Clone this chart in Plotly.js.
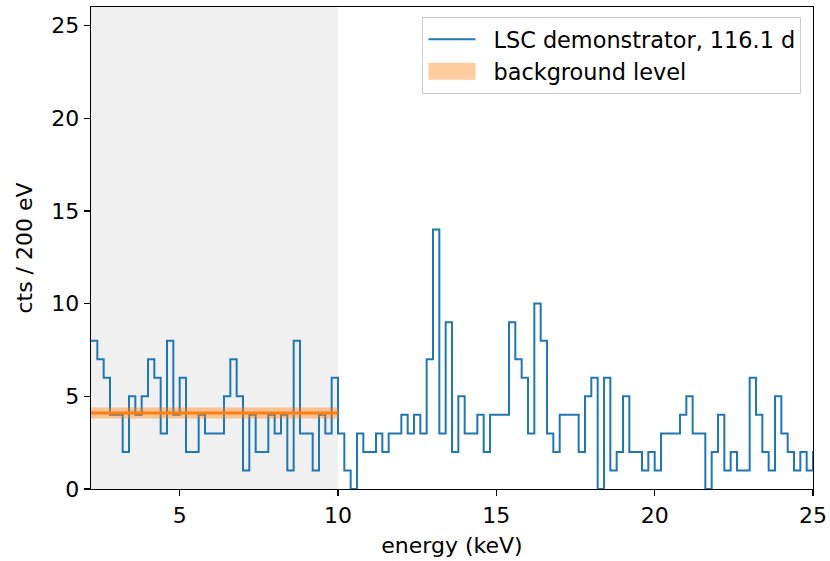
<!DOCTYPE html>
<html>
<head>
<meta charset="utf-8">
<script src="https://cdn.plot.ly/plotly-3.0.1.min.js"></script>
<style>html,body{margin:0;padding:0;background:#fff}#chart{width:830px;height:561px}</style>
</head>
<body>
<div id="chart"></div>
<script>
// Histogram: counts per 200 eV bin, first bin starting at 2.2 keV
const binStart = 2.2;
const binWidth = 0.2;
const counts = [
  8,7,6,4,4,2,5,4,5,7,6,3,8,4,6,2,2,4,3,3,
  3,5,7,5,1,4,2,2,4,3,4,1,8,3,3,1,4,3,6,3,
  1,0,3,2,2,3,2,3,3,4,3,4,3,7,14,3,9,2,5,3,
  3,4,2,4,4,4,9,7,6,3,10,8,3,2,4,4,4,2,5,6,
  0,6,1,2,5,2,2,1,2,1,3,3,3,4,5,3,3,0,2,4,
  1,2,1,1,6,4,2,1,5,3,2,1,2,1,2
];
const seriesName = "LSC demonstrator, 116.1 d";
// Background level (fit region 2.2 - 10 keV)
const bgName = "background level";
const bgRange = [2.2, 10.0];
const bgLevel = 4.1;
const bgErr = 0.3;
const xTicks = [5, 10, 15, 20, 25];
const yTicks = [0, 5, 10, 15, 20, 25];

const edges = counts.map((_, i) => +(binStart + i * binWidth).toFixed(3));
const stepX = edges.concat([+(binStart + counts.length * binWidth).toFixed(3)]);
const stepY = counts.concat([counts[counts.length - 1]]);

const font = {family: "DejaVu Sans, sans-serif", size: 22, color: "#000"};

const traces = [
  {
    x: stepX, y: stepY, type: "scatter", mode: "lines",
    line: {shape: "hv", color: "#1f77b4", width: 2},
    name: seriesName
  },
  {
    x: [bgRange[0], bgRange[1], bgRange[1], bgRange[0], bgRange[0]],
    y: [bgLevel - bgErr, bgLevel - bgErr, bgLevel + bgErr, bgLevel + bgErr, bgLevel - bgErr],
    type: "scatter", mode: "lines", fill: "toself",
    fillcolor: "rgba(255,127,14,0.4)", line: {width: 0, color: "rgba(255,127,14,0)"},
    name: bgName
  },
  {
    x: bgRange, y: [bgLevel, bgLevel], type: "scatter", mode: "lines",
    line: {color: "#ff7f0e", width: 3}, showlegend: false, hoverinfo: "skip"
  }
];

const layout = {
  width: 830, height: 561,
  margin: {l: 91, r: 17, t: 7, b: 72},
  paper_bgcolor: "#fff", plot_bgcolor: "#fff",
  font: font,
  showlegend: true,
  legend: {
    x: 0.984, y: 0.979, xanchor: "right", yanchor: "top",
    bgcolor: "rgba(255,255,255,0.85)", bordercolor: "#cccccc", borderwidth: 1,
    font: {family: "DejaVu Sans, sans-serif", size: 22.4, color: "#000"},
    traceorder: "normal", itemwidth: 60
  },
  xaxis: {
    range: [2.2, 25], tickvals: xTicks, ticktext: xTicks.map(String),
    showgrid: false, zeroline: false, showline: true, linecolor: "#000", linewidth: 1.3,
    mirror: true, ticks: "outside", ticklen: 6, tickwidth: 1.3, tickcolor: "#000",
    tickfont: font,
    title: {text: "energy (keV)", font: font, standoff: 11}
  },
  yaxis: {
    range: [0, 26], tickvals: yTicks, ticktext: yTicks.map(String),
    showgrid: false, zeroline: false, showline: true, linecolor: "#000", linewidth: 1.3,
    mirror: true, ticks: "outside", ticklen: 6, tickwidth: 1.3, tickcolor: "#000",
    tickfont: font,
    title: {text: "cts / 200 eV", font: font, standoff: 12}
  },
  shapes: [
    {type: "rect", xref: "x", yref: "paper", x0: 2.2, x1: 10.0, y0: 0, y1: 1,
     fillcolor: "#f0f0f0", line: {width: 0}, layer: "below"}
  ]
};

Plotly.newPlot("chart", traces, layout, {displayModeBar: false, staticPlot: true}).then(function () {
  try {
    const items = document.querySelectorAll(".legend .traces");
    if (items[0]) {
      const ln = items[0].querySelector("path.js-line");
      if (ln) ln.setAttribute("d", "M5,0h47");
    }
    if (items[1]) {
      const fl = items[1].querySelector("path.js-fill");
      if (fl) fl.setAttribute("d", "M5,-8.5h47v17h-47z");
    }
  } catch (e) {}
});
</script>
</body>
</html>
